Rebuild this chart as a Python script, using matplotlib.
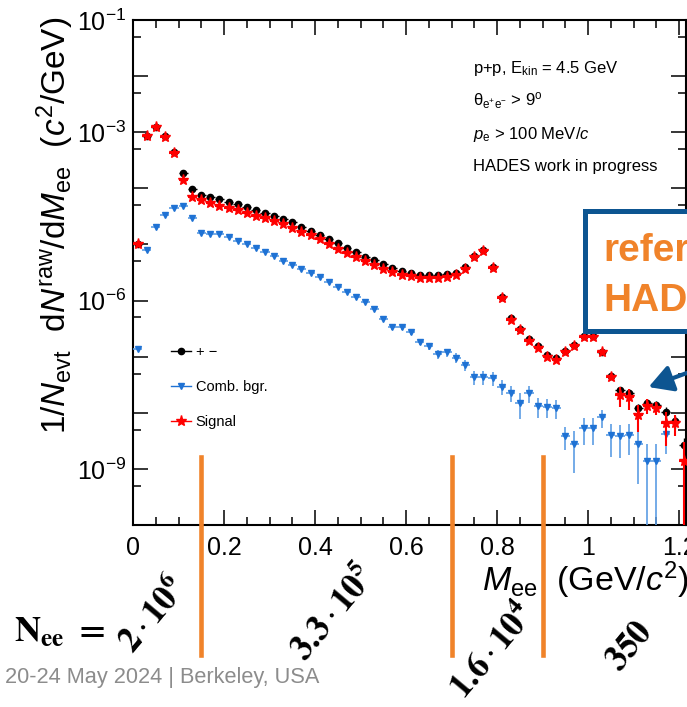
import matplotlib
matplotlib.use('Agg')
import matplotlib.pyplot as plt
import matplotlib.transforms as mtransforms
from matplotlib.lines import Line2D
from matplotlib.patches import Rectangle, FancyArrowPatch
from matplotlib.ticker import FixedLocator, MultipleLocator, FuncFormatter, NullFormatter
import numpy as np

plt.rcParams['font.family'] = ['Liberation Sans', 'DejaVu Sans']
plt.rcParams['mathtext.fontset'] = 'custom'
plt.rcParams['mathtext.rm'] = 'Liberation Sans'
plt.rcParams['mathtext.it'] = 'Liberation Sans:italic'
plt.rcParams['mathtext.bf'] = 'Liberation Sans:bold'

# invariant-mass bin centres (GeV/c^2), 20 MeV bins
mass = np.round(np.arange(0.01, 1.22, 0.02), 2)

# all e+e- pairs
pm = [1.02e-5, 8.67e-4, 1.25e-3, 8.45e-4, 4.44e-4, 1.90e-4, 9.84e-5, 7.60e-5, 6.92e-5, 6.37e-5,
      5.82e-5, 5.21e-5, 4.70e-5, 4.14e-5, 3.67e-5, 3.27e-5, 2.87e-5, 2.48e-5, 2.07e-5, 1.77e-5,
      1.48e-5, 1.23e-5, 1.04e-5, 8.63e-6, 7.33e-6, 6.09e-6, 5.27e-6, 4.42e-6, 3.83e-6, 3.43e-6,
      3.13e-6, 2.85e-6, 2.85e-6, 2.83e-6, 2.97e-6, 3.13e-6, 3.91e-6, 6.21e-6, 7.94e-6, 3.91e-6,
      1.17e-6, 4.88e-7, 3.17e-7, 2.10e-7, 1.55e-7, 1.09e-7, 9.64e-8, 1.26e-7, 1.64e-7, 2.33e-7,
      2.33e-7, 1.23e-7, 4.60e-8, 2.54e-8, 2.27e-8, 1.20e-8, 1.47e-8, 1.37e-8, 1.04e-8, 7.1e-9,
      2.65e-9]
pm_rel = [0.02, 0.02, 0.02, 0.02, 0.02, 0.02, 0.02, 0.02, 0.02, 0.02,
          0.02, 0.02, 0.02, 0.02, 0.02, 0.02, 0.02, 0.02, 0.02, 0.02,
          0.02, 0.02, 0.02, 0.02, 0.02, 0.02, 0.02, 0.02, 0.02, 0.02,
          0.02, 0.02, 0.02, 0.02, 0.02, 0.02, 0.02, 0.02, 0.02, 0.02,
          0.03, 0.04, 0.04, 0.04, 0.04, 0.04, 0.04, 0.05, 0.05, 0.05,
          0.05, 0.05, 0.08, 0.15, 0.15, 0.20, 0.18, 0.18, 0.20, 0.25,
          0.35]

# combinatorial background (empty above 1.18)
bgr = [1.35e-7, 7.94e-6, 2.02e-5, 3.38e-5, 4.55e-5, 4.88e-5, 2.99e-5, 1.58e-5, 1.51e-5, 1.51e-5,
       1.37e-5, 1.16e-5, 1.02e-5, 8.63e-6, 7.33e-6, 6.29e-6, 5.12e-6, 4.35e-6, 3.64e-6, 3.05e-6,
       2.59e-6, 2.11e-6, 1.76e-6, 1.44e-6, 1.14e-6, 9.5e-7, 7.05e-7, 4.78e-7, 3.37e-7, 3.37e-7,
       2.71e-7, 1.85e-7, 1.55e-7, 1.11e-7, 1.19e-7, 9.55e-8, 7.08e-8, 4.38e-8, 4.38e-8, 4.21e-8,
       2.93e-8, 2.29e-8, 1.52e-8, 2.26e-8, 1.32e-8, 1.28e-8, 1.24e-8, 3.89e-9, 2.77e-9, 5.41e-9,
       5.41e-9, 8.28e-9, 4.00e-9, 3.85e-9, 4.00e-9, 2.74e-9, 1.38e-9, 1.38e-9, 4.17e-9]
bgr_rel = [0.03, 0.03, 0.03, 0.03, 0.03, 0.03, 0.03, 0.03, 0.03, 0.03,
           0.03, 0.03, 0.03, 0.03, 0.03, 0.03, 0.03, 0.03, 0.03, 0.03,
           0.03, 0.03, 0.03, 0.03, 0.03, 0.03, 0.03, 0.08, 0.10, 0.10,
           0.12, 0.13, 0.15, 0.18, 0.17, 0.20, 0.22, 0.28, 0.28, 0.28,
           0.30, 0.33, 0.50, 0.33, 0.38, 0.38, 0.38, 0.45, 0.70, 0.50,
           0.50, 0.35, 0.60, 0.60, 0.55, 0.80, 1.00, 1.00, 0.55]

# signal = pairs - background
sig = [1.00e-5, 8.55e-4, 1.24e-3, 8.32e-4, 4.21e-4, 1.39e-4, 6.92e-5, 6.27e-5, 5.47e-5, 4.93e-5,
       4.55e-5, 4.10e-5, 3.70e-5, 3.25e-5, 2.93e-5, 2.61e-5, 2.31e-5, 1.99e-5, 1.68e-5, 1.47e-5,
       1.23e-5, 1.02e-5, 8.38e-6, 7.11e-6, 5.96e-6, 5.00e-6, 4.30e-6, 3.64e-6, 3.26e-6, 2.90e-6,
       2.73e-6, 2.57e-6, 2.55e-6, 2.55e-6, 2.68e-6, 2.85e-6, 3.72e-6, 6.08e-6, 7.78e-6, 3.80e-6,
       1.13e-6, 4.58e-7, 2.98e-7, 1.94e-7, 1.42e-7, 9.84e-8, 8.69e-8, 1.19e-7, 1.56e-7, 2.26e-7,
       2.26e-7, 1.19e-7, 4.38e-8, 2.07e-8, 1.88e-8, 9.1e-9, 1.34e-8, 1.24e-8, 6.5e-9, 6.5e-9,
       1.38e-9]
sig_rel = [0.02, 0.02, 0.02, 0.02, 0.02, 0.02, 0.02, 0.02, 0.02, 0.02,
           0.02, 0.02, 0.02, 0.02, 0.02, 0.02, 0.02, 0.02, 0.02, 0.02,
           0.02, 0.02, 0.02, 0.02, 0.02, 0.02, 0.02, 0.02, 0.02, 0.02,
           0.02, 0.02, 0.02, 0.02, 0.02, 0.02, 0.02, 0.02, 0.02, 0.02,
           0.03, 0.05, 0.05, 0.05, 0.05, 0.05, 0.05, 0.06, 0.06, 0.06,
           0.06, 0.06, 0.10, 0.40, 0.40, 0.50, 0.30, 0.25, 0.60, 0.40,
           1.20]

# mass windows and pair counts in each
mass_cuts = [0.15, 0.7, 0.9]
n_ee = [r'$\mathbf{2}\cdot\mathbf{10^{6}}$', r'$\mathbf{3.3}\cdot\mathbf{10^{5}}$',
        r'$\mathbf{1.6}\cdot\mathbf{10^{4}}$', r'$\mathbf{350}$']

W, H = 687, 707


def fx(px):
    return px / W


def fy(py):
    return 1 - py / H


def yerrs(vals, rel):
    v = np.asarray(vals)
    e = v * np.asarray(rel)
    lo = np.minimum(e, v * 0.999)
    return [lo, e]


fig = plt.figure(figsize=(W / 100, H / 100), dpi=100)
ax = fig.add_axes([fx(133), fy(525), fx(686) - fx(133), fy(20) - fy(525)])

ax.errorbar(mass, pm, xerr=0.01, yerr=yerrs(pm, pm_rel), fmt='o', color='black',
            ms=4.5, elinewidth=1, capsize=0, zorder=3)
nb = len(bgr)
ax.errorbar(mass[:nb], bgr, xerr=0.01, yerr=yerrs(bgr, bgr_rel), fmt='v',
            color='#1f72d4', ecolor='#5c9de4', ms=4.5, elinewidth=1.2, capsize=0, zorder=3)
ax.errorbar(mass, sig, xerr=0.01, yerr=yerrs(sig, sig_rel), fmt='*', color='red',
            ms=8, elinewidth=1.5, capsize=0, zorder=4)

ax.set_yscale('log')
ax.set_ylim(1e-10, 1e-1)
ax.set_xlim(0, 1.215)

ax.yaxis.set_major_locator(FixedLocator(10.0 ** np.arange(-10, 0)))
ax.yaxis.set_minor_locator(FixedLocator(5 * 10.0 ** np.arange(-10, -1)))
shown = {-1, -3, -6, -9}


def ylab(v, pos):
    e = int(round(np.log10(v)))
    return r'$10^{%d}$' % e if e in shown else ''


ax.yaxis.set_major_formatter(FuncFormatter(ylab))
ax.yaxis.set_minor_formatter(NullFormatter())
ax.xaxis.set_major_locator(MultipleLocator(0.2))
ax.xaxis.set_minor_locator(MultipleLocator(0.05))
ax.xaxis.set_major_formatter(FuncFormatter(lambda v, p: '%g' % round(v, 2)))

ax.tick_params(which='both', direction='in', top=True, right=True, width=1.1,
               labelsize=18)
ax.tick_params(which='major', length=11)
ax.tick_params(which='minor', length=6)
ax.tick_params(axis='x', pad=8)
ax.tick_params(axis='y', pad=5)
for s in ax.spines.values():
    s.set_linewidth(1.5)

# legend
handles = [Line2D([], [], color='black', marker='o', ms=4.5, lw=1),
           Line2D([], [], color='#1f72d4', marker='v', ms=4.5, lw=1),
           Line2D([], [], color='red', marker='*', ms=8, lw=1)]
ax.legend(handles, ['+ \u2212', 'Comb. bgr.', 'Signal'], loc='upper left',
          bbox_to_anchor=(fx(171), fy(345)), bbox_transform=fig.transFigure,
          frameon=False, fontsize=10.5, handlelength=1.4, handletextpad=0.3,
          labelspacing=1.45, borderpad=0, borderaxespad=0)

# cuts / labels
info = ['p+p, E$_{\\rm kin}$ = 4.5 GeV',
        '\u03b8$_{\\rm e^{+}e^{-}}$ > 9$^{\\rm o}$',
        r'$p_{\rm e}$ > 100 MeV/$c$',
        'HADES work in progress']
for i, t in enumerate(info):
    fig.text(fx(473), fy(68 + 33 * i), t, fontsize=12, va='center', ha='left')

# axis titles
fig.text(fx(55), fy(17),
         r'$1/N_{\rm evt}\ \ {\rm d}N^{\rm raw}/{\rm d}M_{\rm ee}\ \ (c^{2}/{\rm GeV})$',
         rotation=90, ha='center', va='top', fontsize=24)
fig.text(fx(689), fy(580), r'$M_{\rm ee}\ \ (\rm GeV/\it c^{\rm 2}\rm )$', ha='right',
         va='center', fontsize=24.5)

# mass window boundaries with N_ee
blend = mtransforms.blended_transform_factory(ax.transData, fig.transFigure)
for c in mass_cuts:
    fig.add_artist(Line2D([c, c], [fy(457), fy(655)], transform=blend,
                          color='#f0832a', lw=3.3, zorder=5))

fig.text(fx(14), fy(641), r'$\mathbf{N_{ee}}\ \mathbf{=}$', fontsize=26,
         math_fontfamily='stix', ha='left', va='baseline')
for (px, py), t in zip([(153, 615), (333, 613), (492, 651), (629, 646)], n_ee):
    fig.text(fx(px), fy(py), t, fontsize=25, math_fontfamily='stix', rotation=50,
             rotation_mode='anchor', ha='center', va='center')

fig.text(fx(5), fy(678), '20-24 May 2024 | Berkeley, USA', color='#8c8c8c',
         fontsize=15.7, ha='left', va='center')

# reference box and arrow
fig.add_artist(Rectangle((fx(584.5), fy(330.5)), fx(720) - fx(584.5), fy(210.5) - fy(330.5),
                         transform=fig.transFigure, facecolor='white',
                         edgecolor='#0d5591', lw=3.6, zorder=6))
fig.text(fx(603), fy(261), 'refer', color='#f0832a', fontsize=28, fontweight='bold',
         ha='left', va='baseline', zorder=7)
fig.text(fx(603), fy(311), 'HAD', color='#f0832a', fontsize=28, fontweight='bold',
         ha='left', va='baseline', zorder=7)
fig.add_artist(FancyArrowPatch((fx(695), fy(370)), (fx(646), fy(388)),
                               transform=fig.transFigure, color='#0d5591', lw=3,
                               arrowstyle='-|>,head_length=0.8,head_width=0.45',
                               mutation_scale=18, zorder=7))

fig.savefig('out.png', dpi=100)
